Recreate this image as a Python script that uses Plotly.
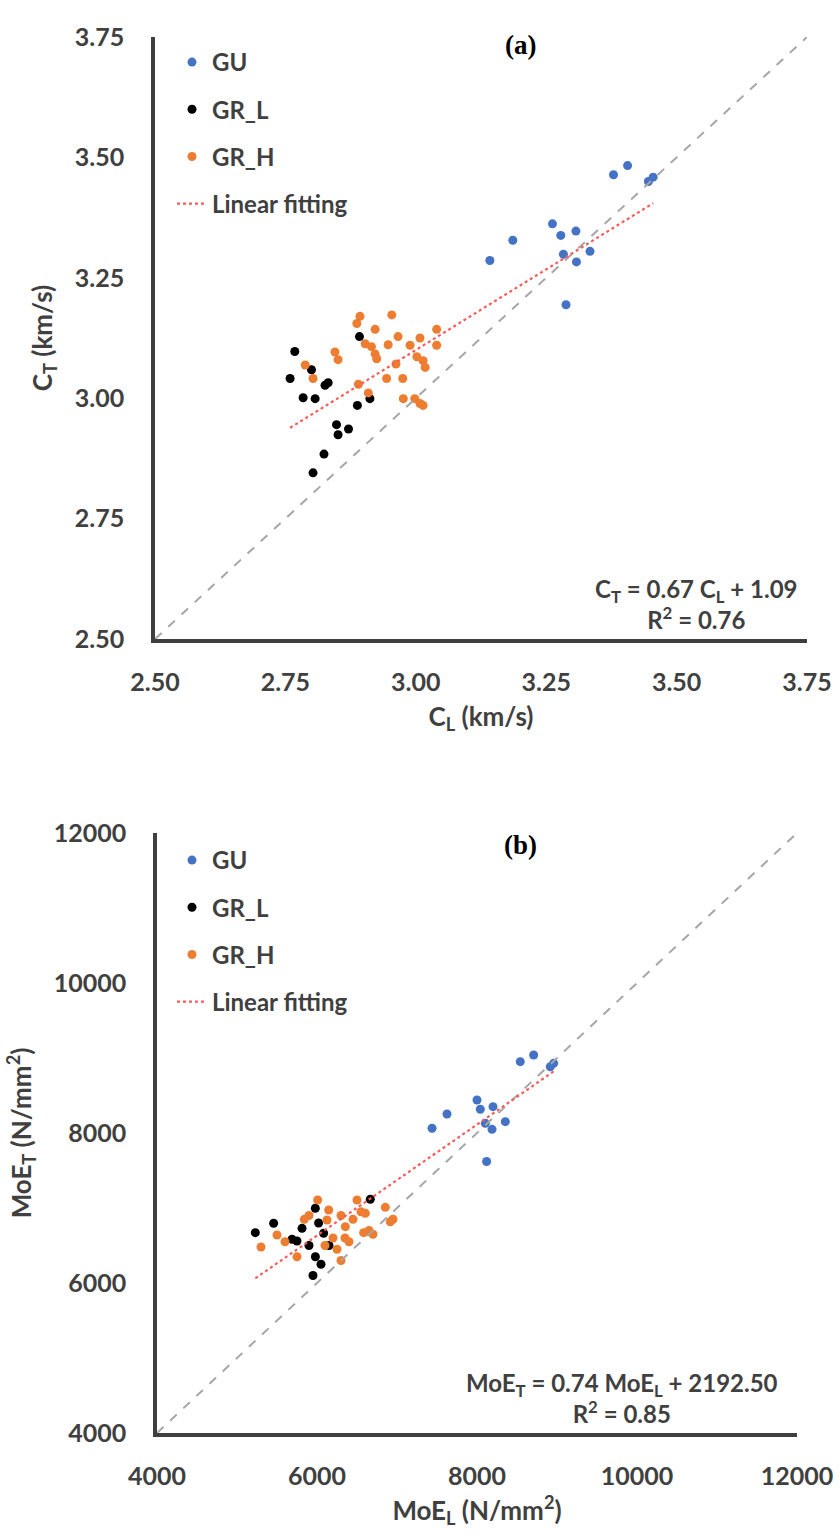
import plotly.graph_objects as go

# ---------------- (a) wave velocities ----------------
GU_CL = [3.379, 3.406, 3.446, 3.455, 3.262, 3.278, 3.307, 3.283, 3.308, 3.334, 3.288, 3.142, 3.186]
GU_CT = [3.464, 3.483, 3.450, 3.459, 3.362, 3.338, 3.347, 3.299, 3.283, 3.305, 3.194, 3.286, 3.328]

GRL_CL = [2.768, 2.759, 2.800, 2.784, 2.807, 2.826, 2.832, 2.892, 2.888, 2.912, 2.848, 2.851, 2.871, 2.824, 2.803]
GRL_CT = [3.097, 3.041, 3.059, 3.001, 2.999, 3.027, 3.032, 3.128, 2.985, 2.999, 2.945, 2.924, 2.936, 2.884, 2.845]

GRH_CL = [2.893, 2.887, 2.954, 2.922, 2.845, 2.851, 2.903, 2.915, 2.922, 2.925, 2.947, 2.966, 2.989, 3.008, 3.040,
          3.040, 2.962, 3.002, 3.014, 3.018, 2.944, 2.975, 2.788, 2.803, 2.890, 2.909, 2.976, 2.998, 3.008, 3.014]
GRH_CT = [3.170, 3.155, 3.173, 3.143, 3.096, 3.080, 3.113, 3.107, 3.092, 3.082, 3.111, 3.128, 3.110, 3.125, 3.143,
          3.110, 3.071, 3.086, 3.078, 3.064, 3.041, 3.041, 3.069, 3.041, 3.029, 3.011, 2.999, 2.999, 2.989, 2.985]

FIT_A = (0.67, 1.09)       # slope, intercept
R2_A = 0.76
RANGE_A = [2.50, 3.75]
TICKS_A = [2.50, 2.75, 3.00, 3.25, 3.50, 3.75]

# ---------------- (b) moduli of elasticity ----------------
GU_ML = [8541, 8708, 8958, 8916, 8000, 8041, 8200, 7625, 7438, 8104, 8188, 8354, 8120]
GU_MT = [8951, 9040, 8929, 8884, 8440, 8316, 8351, 8253, 8063, 8129, 8049, 8151, 7620]

GRL_ML = [5229, 5458, 5979, 6666, 5813, 6083, 5688, 5900, 5950, 6050, 6150, 5980, 6020, 5750]
GRL_MT = [6671, 6796, 6996, 7116, 6729, 6663, 6583, 6500, 6100, 6250, 6500, 6350, 6800, 6560]

GRH_ML = [6008, 5841, 6146, 6125, 6500, 6604, 6854, 6916, 6583, 6354, 5500, 5300, 5600, 5750, 5900,
          6200, 6250, 6300, 6400, 6450, 6550, 6650, 6700, 6950, 6100, 6350, 6300]
GRH_MT = [7107, 6849, 6973, 6840, 7107, 6929, 7009, 6817, 6671, 6751, 6640, 6480, 6550, 6350, 6900,
          6600, 6450, 6300, 6550, 6850, 6950, 6700, 6650, 6850, 6500, 6600, 6900]

FIT_B = (0.74, 2192.50)
R2_B = 0.85
RANGE_B = [4000, 12000]
TICKS_B = [4000, 6000, 8000, 10000, 12000]

# ---------------- styling ----------------
W, H = 839, 1540
BLUE, BLACK, ORANGE = "#4472C4", "#000000", "#ED7D31"
FIT_RED = "#FF5A5A"
TXT = "#404040"
FONT = "Lato"


def px_x(v):
    return v / W


def px_y(v):
    return 1 - v / H


fig = go.Figure()


def add_panel(xs, ys, fit, rng, xa, ya, legend):
    groups = [("GU", BLUE), ("GR_L", BLACK), ("GR_H", ORANGE)]
    for (name, col), x, y in zip(groups, xs, ys):
        fig.add_trace(go.Scatter(
            x=x, y=y, mode="markers", name=name, legendgroup=legend + name,
            marker=dict(color=col, size=9), xaxis=xa, yaxis=ya, legend=legend))
    # 1:1 reference line across the axis range
    fig.add_trace(go.Scatter(
        x=rng, y=rng, mode="lines", showlegend=False, hoverinfo="skip",
        line=dict(color="#A6A6A6", width=2, dash="dash"), xaxis=xa, yaxis=ya))
    # least-squares line over the span of the data
    all_x = [v for s in xs for v in s]
    x0, x1 = min(all_x), max(all_x)
    a, b = fit
    fig.add_trace(go.Scatter(
        x=[x0, x1], y=[a * x0 + b, a * x1 + b], mode="lines", name="Linear fitting",
        legendgroup=legend + "fit", line=dict(color=FIT_RED, width=2.2, dash="dot"),
        xaxis=xa, yaxis=ya, legend=legend))


add_panel([GU_CL, GRL_CL, GRH_CL], [GU_CT, GRL_CT, GRH_CT], FIT_A, RANGE_A, "x", "y", "legend")
add_panel([GU_ML, GRL_ML, GRH_ML], [GU_MT, GRL_MT, GRH_MT], FIT_B, RANGE_B, "x2", "y2", "legend2")

tickfont = dict(family=FONT, size=25, color=TXT, weight="bold")
titlefont = dict(family=FONT, size=26, color=TXT, weight="bold")


def axis(rng, ticks, fmt, domain, anchor, title, standoff, lab_off):
    return dict(
        range=rng, tickvals=ticks, tickformat=fmt, domain=domain, anchor=anchor,
        showgrid=False, zeroline=False, showline=True, linecolor="#3F3F3F", linewidth=3.5,
        ticks="", tickfont=tickfont, ticklabelstandoff=lab_off,
        title=dict(text=title, font=titlefont, standoff=standoff), automargin=False,
        fixedrange=True)


legend_font = dict(family=FONT, size=24, color=TXT, weight="bold")

fig.update_layout(
    width=W, height=H, margin=dict(l=0, r=0, t=0, b=0),
    paper_bgcolor="white", plot_bgcolor="white", showlegend=True,
    xaxis=axis(RANGE_A, TICKS_A, ".2f", [px_x(155), px_x(807)], "y",
               "C<sub>L</sub> (km/s)", 14, 18),
    yaxis=axis(RANGE_A, TICKS_A, ".2f", [px_y(639), px_y(37)], "x",
               "C<sub>T</sub> (km/s)", 16, 22),
    xaxis2=axis(RANGE_B, TICKS_B, "d", [px_x(157), px_x(797)], "y2",
                "MoE<sub>L</sub> (N/mm<sup>2</sup>)", 14, 18),
    yaxis2=axis(RANGE_B, TICKS_B, "d", [px_y(1433), px_y(833)], "x2",
                "MoE<sub>T</sub> (N/mm<sup>2</sup>)", 16, 22),
    legend=dict(x=px_x(172), y=px_y(40), xanchor="left", yanchor="top",
                font=legend_font, bgcolor="rgba(0,0,0,0)", tracegroupgap=13),
    legend2=dict(x=px_x(172), y=px_y(838), xanchor="left", yanchor="top",
                 font=legend_font, bgcolor="rgba(0,0,0,0)", tracegroupgap=13),
    hovermode=False,
)

eq_font = dict(family=FONT, size=24, color=TXT, weight="bold")
lab_font = dict(family="Liberation Serif", size=27, color="#000000", weight="bold")
fig.add_annotation(
    x=px_x(696), y=px_y(604), xref="paper", yref="paper", showarrow=False,
    xanchor="center", yanchor="middle", align="center",
    text=f"C<sub>T</sub> = {FIT_A[0]:.2f} C<sub>L</sub> + {FIT_A[1]:.2f}<br>R<sup>2</sup> = {R2_A:.2f}",
    font=eq_font)
fig.add_annotation(
    x=px_x(622), y=px_y(1398), xref="paper", yref="paper", showarrow=False,
    xanchor="center", yanchor="middle", align="center",
    text=f"MoE<sub>T</sub> = {FIT_B[0]:.2f} MoE<sub>L</sub> + {FIT_B[1]:.2f}<br>R<sup>2</sup> = {R2_B:.2f}",
    font=eq_font)
fig.add_annotation(x=px_x(520), y=px_y(45), xref="paper", yref="paper", showarrow=False,
                   xanchor="center", yanchor="middle", text="(a)", font=lab_font)
fig.add_annotation(x=px_x(520), y=px_y(845), xref="paper", yref="paper", showarrow=False,
                   xanchor="center", yanchor="middle", text="(b)", font=lab_font)

fig.write_html("out.html")
